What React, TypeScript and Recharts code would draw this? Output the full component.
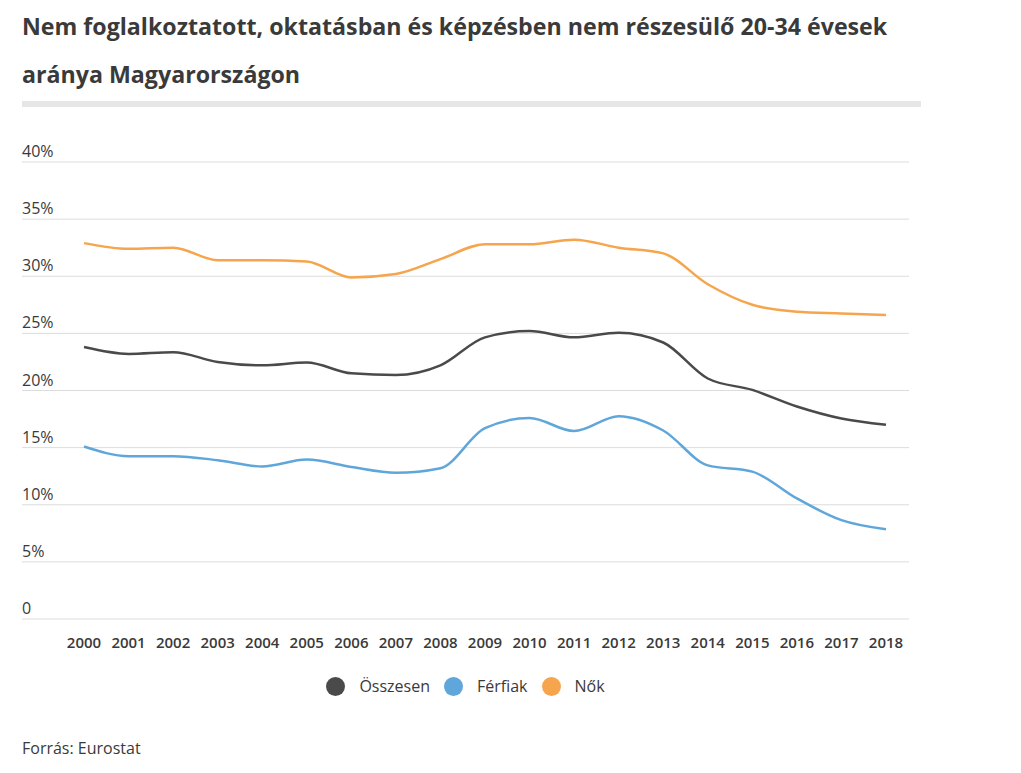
import React from 'react';
import { LineChart, Line, XAxis, YAxis, CartesianGrid } from 'recharts';

const years = ['2000','2001','2002','2003','2004','2005','2006','2007','2008','2009','2010','2011','2012','2013','2014','2015','2016','2017','2018'];
const osszesen = [23.8, 23.2, 23.35, 22.5, 22.2, 22.45, 21.5, 21.35, 22.2, 24.65, 25.2, 24.65, 25.05, 24.2, 21.05, 20.05, 18.6, 17.55, 17.0];
const ferfiak = [15.1, 14.25, 14.25, 13.9, 13.35, 13.95, 13.3, 12.8, 13.2, 16.7, 17.6, 16.45, 17.75, 16.5, 13.45, 12.9, 10.55, 8.65, 7.85];
const nok = [32.9, 32.4, 32.5, 31.4, 31.4, 31.3, 29.9, 30.2, 31.5, 32.8, 32.8, 33.2, 32.5, 32.0, 29.3, 27.5, 26.9, 26.75, 26.6];
const yTicks = [0, 5, 10, 15, 20, 25, 30, 35, 40];

const seriesInfo = [
  { key: 'osszesen', name: 'Összesen', color: '#4a4a4a' },
  { key: 'ferfiak', name: 'Férfiak', color: '#5fa6db' },
  { key: 'nok', name: 'Nők', color: '#f6a54c' },
];

const data = years.map((y, i) => ({ year: y, osszesen: osszesen[i], ferfiak: ferfiak[i], nok: nok[i] }));

const FONT = '"Open Sans", "DejaVu Sans", sans-serif';
const TEXT = '#3a3a3a';

const YTick = (props: any) => {
  const { x, y, payload } = props;
  const v = payload.value;
  return (
    <text x={x} y={y - 5} textAnchor="start" fill={TEXT} fontSize={16} fontFamily={FONT} fontWeight={500}>
      {v === 0 ? '0' : `${v}%`}
    </text>
  );
};

const XTick = (props: any) => {
  const { x, y, payload } = props;
  return (
    <text x={x} y={y + 21} textAnchor="middle" fill={TEXT} fontSize={15} fontFamily={FONT} fontWeight={600}>
      {payload.value}
    </text>
  );
};

export default function App() {
  return (
    <div style={{ position: 'absolute', left: 0, top: 0, width: 1021, height: 773, background: '#fff', fontFamily: FONT }}>
      <div style={{ position: 'absolute', left: 22, top: 2, width: 990, fontSize: 23.2, fontWeight: 700, lineHeight: '48px', color: TEXT, whiteSpace: 'nowrap' }}>
        Nem foglalkoztatott, oktatásban és képzésben nem részesülő 20-34 évesek<br />aránya Magyarországon
      </div>
      <div style={{ position: 'absolute', left: 22, top: 101, width: 899, height: 6, background: '#e6e6e6' }} />
      <div style={{ position: 'absolute', left: 0, top: 0 }}>
        <LineChart width={1021} height={773} data={data} margin={{ top: 162, left: 22, right: 112, bottom: 114 }}>
          <CartesianGrid vertical={false} stroke="#dcdcdc" strokeWidth={1} />
          <XAxis
            dataKey="year"
            padding={{ left: 62, right: 23 }}
            axisLine={false}
            tickLine={false}
            tick={<XTick />}
            interval={0}
            height={40}
          />
          <YAxis
            domain={[0, 40]}
            ticks={yTicks}
            width={60}
            mirror
            axisLine={false}
            tickLine={false}
            tickSize={0}
            tickMargin={0}
            tick={<YTick />}
          />
          {seriesInfo.map((s) => (
            <Line
              key={s.key}
              type="monotone"
              dataKey={s.key}
              name={s.name}
              stroke={s.color}
              strokeWidth={2.5}
              dot={false}
              activeDot={false}
              isAnimationActive={false}
            />
          ))}
        </LineChart>
      </div>
      <div style={{ position: 'absolute', top: 675, left: 22, width: 887, height: 22, display: 'flex', justifyContent: 'center', alignItems: 'center', fontSize: 16, color: TEXT, fontWeight: 500 }}>
        {seriesInfo.map((s) => (
          <div key={s.key} style={{ display: 'flex', alignItems: 'center', margin: '0 7px' }}>
            <span style={{ width: 19, height: 19, borderRadius: '50%', background: s.color, display: 'inline-block', marginRight: 14 }} />
            <span>{s.name}</span>
          </div>
        ))}
      </div>
      <div style={{ position: 'absolute', left: 22, top: 737, fontSize: 16, color: TEXT, fontWeight: 500 }}>Forrás: Eurostat</div>
    </div>
  );
}
